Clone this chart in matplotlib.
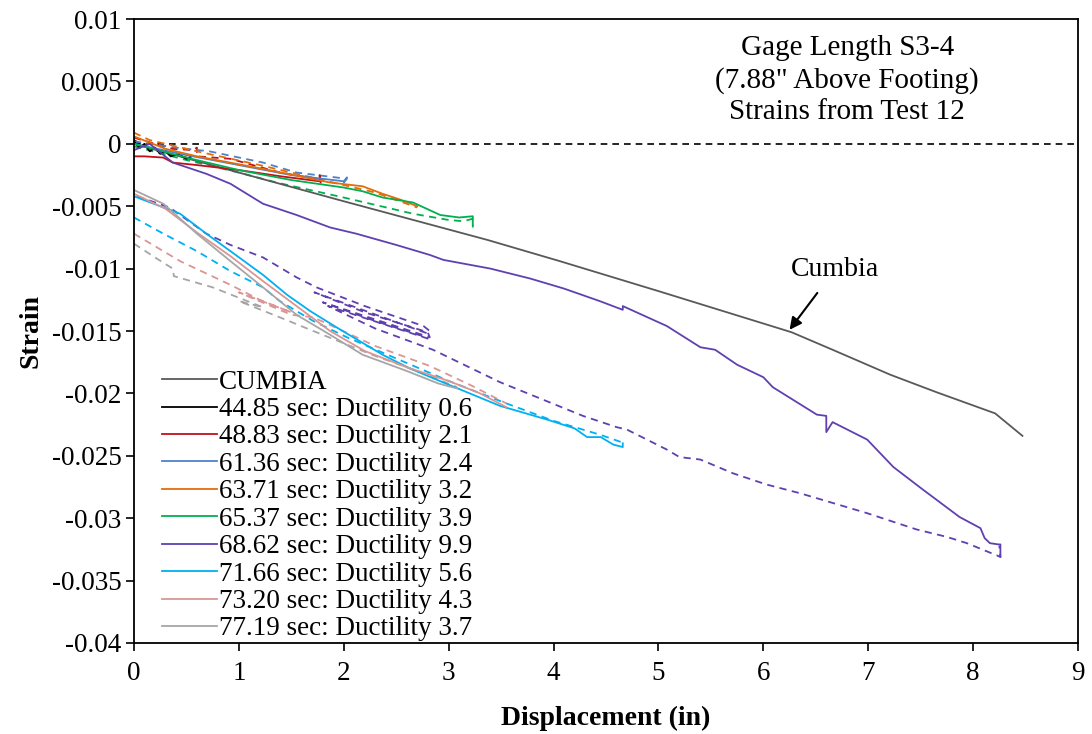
import matplotlib
matplotlib.use('Agg')
import matplotlib.pyplot as plt

plt.rcParams['font.family'] = 'Liberation Serif'

# CUMBIA prediction
cumbia_x = [0, 1.0, 2.0, 3.37, 4.06, 5.0, 6.27, 6.66, 7.21, 7.65, 8.21, 8.47]
cumbia_y = [0, -0.0023, -0.0046, -0.0077, -0.0094, -0.0118, -0.0151, -0.0165, -0.0185, -0.0199, -0.0216, -0.0234]

# 44.85 sec
blk_x = [0, 0.05, 0.1, 0.15, 0.2, 0.25, 0.3, 0.35, 0.42, 0.5, 0.55]
blk_y = [0.0002, -0.0003, 0.0, -0.0006, -0.0003, -0.0008, -0.0006, -0.0010, -0.0008, -0.0012, -0.0010]
blk_dx = [0, 0.1, 0.2, 0.3, 0.4, 0.55]
blk_dy = [0.0003, -0.0002, -0.0005, -0.0008, -0.0009, -0.0012]

# 48.83 sec
red_x = [0, 0.1, 0.28, 0.37, 0.6, 1.0, 1.4, 1.77, 1.77, 1.78]
red_y = [-0.0010, -0.0010, -0.0011, -0.0015, -0.0017, -0.0021, -0.0026, -0.0030, -0.0025, -0.0031]
red_dx = [0, 0.2, 0.37, 0.56, 0.6, 0.6, 0.92, 1.39, 1.74]
red_dy = [0.0005, 0.0, -0.0004, -0.0005, -0.0003, -0.0010, -0.0012, -0.0023, -0.0028]

# 61.36 sec
blu_x = [0, 0.5, 1.0, 1.5, 2.0, 2.03]
blu_y = [0.0, -0.0009, -0.0017, -0.0025, -0.0030, -0.0027]
blu_dx = [0, 0.4, 0.72, 1.23, 1.55, 2.03, 2.0, 2.03]
blu_dy = [0.0002, -0.0003, -0.0006, -0.0015, -0.0023, -0.0028, -0.0031, -0.0029]

# 63.71 sec
org_x = [0, 0.3, 0.6, 1.23, 1.87, 2.18, 2.37, 2.55, 2.7]
org_y = [0.0006, -0.0004, -0.0010, -0.0020, -0.0031, -0.0034, -0.0040, -0.0045, -0.0050]
org_dx = [0, 0.15, 0.6, 1.2, 1.8, 2.3, 2.7]
org_dy = [0.0009, 0.0003, -0.0006, -0.0017, -0.0029, -0.0039, -0.0051]

# 65.37 sec
grn_x = [0, 0.5, 1.0, 1.5, 2.0, 2.18, 2.37, 2.66, 2.92, 3.1, 3.23, 3.23]
grn_y = [0.0, -0.0011, -0.0021, -0.0029, -0.0035, -0.0038, -0.0043, -0.0047, -0.0057, -0.0059, -0.0058, -0.0065]
grn_dx = [0, 0.5, 1.0, 1.36, 2.0, 2.66, 3.0, 3.14, 3.23, 3.23]
grn_dy = [-0.0002, -0.0013, -0.0023, -0.0031, -0.0043, -0.0056, -0.0061, -0.0062, -0.0060, -0.0067]

# 68.62 sec
pur_x = [0, 0.15, 0.37, 0.69, 0.92, 1.23, 1.55, 1.87, 2.12, 2.5, 2.82, 2.95, 3.4, 3.78, 4.1, 4.44,
         4.66, 4.66, 5.08, 5.4, 5.54, 5.75, 6.0, 6.09, 6.51, 6.6, 6.6, 6.66, 6.99, 7.24, 7.52, 7.87,
         8.07, 8.11, 8.16, 8.24, 8.26, 8.26]
pur_y = [-0.0005, 0.0, -0.0015, -0.0024, -0.0032, -0.0048, -0.0057, -0.0067, -0.0072, -0.0081, -0.0089,
         -0.0093, -0.0100, -0.0108, -0.0116, -0.0126, -0.0133, -0.0130, -0.0146, -0.0163, -0.0165,
         -0.0177, -0.0187, -0.0195, -0.0217, -0.0218, -0.0231, -0.0223, -0.0237, -0.0259, -0.0277,
         -0.0299, -0.0308, -0.0316, -0.0320, -0.0321, -0.0321, -0.0331]
pur_dx = [0.03, 0.34, 0.69, 0.92, 1.23, 1.55, 1.74, 2.2, 2.76, 2.82, 2.8, 1.72, 2.2, 2.8, 2.82, 1.8,
          2.3, 2.75, 2.8, 1.85, 2.3, 2.85, 3.49, 4.28, 4.6, 4.7, 5.08, 5.2, 5.4, 5.71, 6.03, 6.35,
          6.99, 7.46, 7.75, 7.94, 8.26, 8.25]
pur_dy = [-0.0042, -0.0051, -0.0072, -0.0081, -0.0091, -0.0107, -0.0115, -0.0130, -0.0146, -0.0150,
          -0.0152, -0.0119, -0.0135, -0.0151, -0.0155, -0.0127, -0.0142, -0.0154, -0.0156, -0.0130,
          -0.0148, -0.0165, -0.0191, -0.0218, -0.0227, -0.0229, -0.0245, -0.0251, -0.0253, -0.0264,
          -0.0273, -0.0280, -0.0296, -0.0309, -0.0315, -0.0320, -0.0331, -0.0322]

# 71.66 sec
cya_x = [0.0, 0.44, 0.69, 0.92, 1.23, 1.46, 1.68, 1.93, 2.37, 2.63, 3.0, 3.49, 3.94, 4.2, 4.32, 4.45,
         4.57, 4.66, 4.66]
cya_y = [-0.0042, -0.0056, -0.0072, -0.0086, -0.0105, -0.0121, -0.0134, -0.0147, -0.0169, -0.0180,
         -0.0193, -0.0210, -0.0221, -0.0228, -0.0235, -0.0235, -0.0241, -0.0243, -0.0240]
cya_dx = [0.0, 0.28, 0.6, 0.92, 1.23, 1.39, 1.71, 2.03, 2.5, 3.0, 3.55, 4.0, 4.44, 4.68]
cya_dy = [-0.0059, -0.0072, -0.0086, -0.0102, -0.0115, -0.0126, -0.0142, -0.0155, -0.0172, -0.0190,
          -0.0208, -0.0222, -0.0233, -0.0240]

# 73.20 sec
pnk_x = [0, 0.3, 0.6, 0.92, 1.23, 1.55, 1.87, 2.2, 2.6, 3.0, 3.3, 3.55]
pnk_y = [-0.0040, -0.0052, -0.0071, -0.0090, -0.0110, -0.0130, -0.0150, -0.0166, -0.0179, -0.0190,
         -0.0200, -0.0211]
pnk_dx = [0, 0.44, 0.92, 1.2, 1.5, 1.0, 1.5, 1.71, 2.3, 2.82, 3.2, 3.55]
pnk_dy = [-0.0072, -0.0094, -0.0113, -0.0125, -0.0135, -0.0119, -0.0137, -0.0139, -0.0162, -0.0178,
          -0.0193, -0.0208]

# 77.19 sec
gry_x = [0, 0.28, 0.6, 0.92, 1.23, 1.55, 1.87, 2.18, 2.6, 2.9, 3.08]
gry_y = [-0.0037, -0.0048, -0.0072, -0.0094, -0.0115, -0.0137, -0.0153, -0.0169, -0.0182, -0.0192,
         -0.0196]
gry_dx = [0, 0.2, 0.37, 0.38, 0.75, 1.23, 1.0, 1.39, 1.71, 2.3, 2.7, 3.08]
gry_dy = [-0.0080, -0.0091, -0.0100, -0.0106, -0.0115, -0.0131, -0.0126, -0.0139, -0.0150, -0.0170,
          -0.0182, -0.0195]

labels = ['CUMBIA', '44.85 sec: Ductility 0.6', '48.83 sec: Ductility 2.1', '61.36 sec: Ductility 2.4',
          '63.71 sec: Ductility 3.2', '65.37 sec: Ductility 3.9', '68.62 sec: Ductility 9.9',
          '71.66 sec: Ductility 5.6', '73.20 sec: Ductility 4.3', '77.19 sec: Ductility 3.7']
colors = ['#595959', '#000000', '#C0101A', '#4F81C8', '#E46C0A', '#00B050', '#6040B0',
          '#00B0F0', '#D99694', '#A6A6A6']

solids = [(cumbia_x, cumbia_y), (blk_x, blk_y), (red_x, red_y), (blu_x, blu_y), (org_x, org_y),
          (grn_x, grn_y), (pur_x, pur_y), (cya_x, cya_y), (pnk_x, pnk_y), (gry_x, gry_y)]
dashes = [None, (blk_dx, blk_dy), (red_dx, red_dy), (blu_dx, blu_dy), (org_dx, org_dy),
          (grn_dx, grn_dy), (pur_dx, pur_dy), (cya_dx, cya_dy), (pnk_dx, pnk_dy), (gry_dx, gry_dy)]

fig = plt.figure(figsize=(10.92, 7.34), dpi=100)
ax = fig.add_axes([0.1227, 0.124, 0.8645, 0.850])

ax.axhline(0, color='black', lw=1.2, ls=(0, (4, 3)))

for i in range(len(solids)):
    if dashes[i] is not None:
        ax.plot(dashes[i][0], dashes[i][1], color=colors[i], lw=1.3, ls=(0, (4, 3)))
for i in range(len(solids)):
    ax.plot(solids[i][0], solids[i][1], color=colors[i], lw=1.3, label=labels[i])

ax.set_xlim(0, 9)
ax.set_ylim(-0.04, 0.01)
ax.set_xticks(range(10))
ax.set_yticks([0.01, 0.005, 0, -0.005, -0.01, -0.015, -0.02, -0.025, -0.03, -0.035, -0.04])
ax.set_yticklabels(['0.01', '0.005', '0', '-0.005', '-0.01', '-0.015', '-0.02', '-0.025',
                    '-0.03', '-0.035', '-0.04'])
ax.tick_params(direction='out', length=6, width=1.2, labelsize=19.5, pad=3)
ax.tick_params(axis='x', pad=7)
for s in ax.spines.values():
    s.set_linewidth(1.3)

ax.set_xlabel('Displacement (in)', fontsize=20, fontweight='bold', labelpad=14)
ax.set_ylabel('Strain', fontsize=20, fontweight='bold', labelpad=6)

ax.text(6.8, 0.0051, 'Gage Length S3-4\n(7.88" Above Footing)\nStrains from Test 12',
        ha='center', va='center', fontsize=21, linespacing=1.28)

ax.annotate('Cumbia', xy=(6.25, -0.0149), xytext=(6.68, -0.0101), fontsize=20,
            ha='center', va='center',
            arrowprops=dict(arrowstyle='-|>', color='black', lw=1.5, shrinkA=7, shrinkB=0,
                            mutation_scale=18))

ax.legend(loc='lower left', bbox_to_anchor=(0.01, -0.028), frameon=False, fontsize=19.5,
          handlelength=2.0, handletextpad=0.1, labelspacing=0.09, borderpad=0.2)

fig.savefig('out.png', dpi=100)
